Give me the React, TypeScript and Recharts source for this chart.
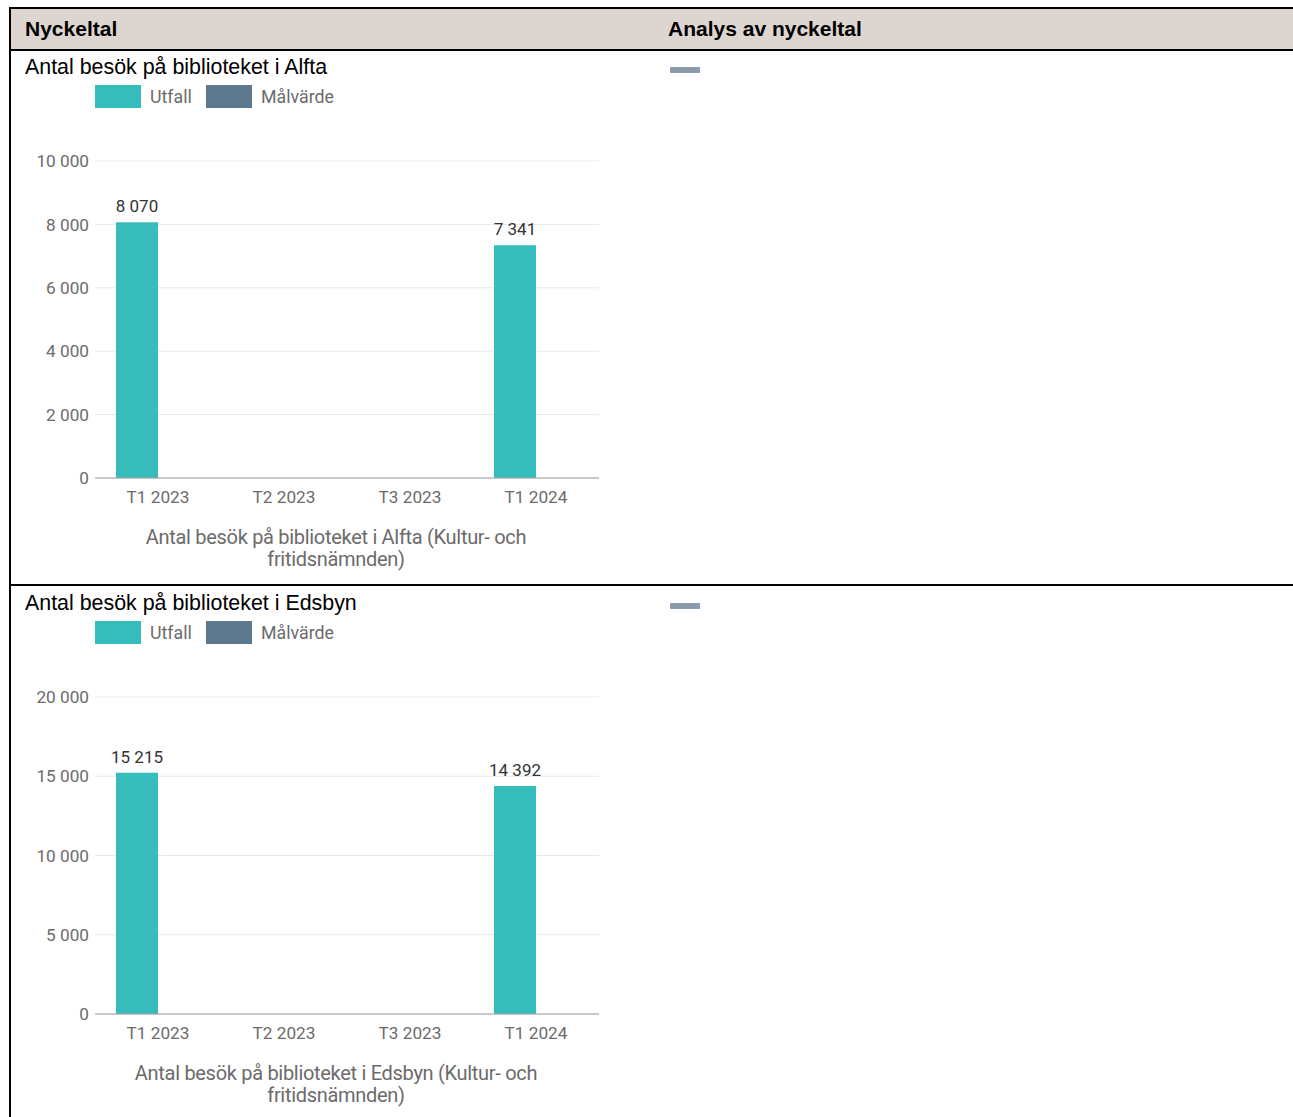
import { BarChart, Bar, XAxis, YAxis, CartesianGrid, LabelList } from "recharts";

// Key figure rows: library visits per tertial
const periods = ["T1 2023", "T2 2023", "T3 2023", "T1 2024"];
const alftaUtfall = [8070, null, null, 7341];
const alftaMalvarde = [null, null, null, null];
const edsbynUtfall = [15215, null, null, 14392];
const edsbynMalvarde = [null, null, null, null];
const alftaTicks = [0, 2000, 4000, 6000, 8000, 10000];
const edsbynTicks = [0, 5000, 10000, 15000, 20000];
const seriesNames = ["Utfall", "Målvärde"];
const seriesColors = ["#36bcba", "#5c788f"];

const ROBOTO = "Roboto, 'Noto Sans', sans-serif";
const ARIAL = "Arial, 'Liberation Sans', sans-serif";

// thousands separated by a no-break space so labels never wrap
const fmt = (v: unknown) =>
  v == null || v === "" ? "" : String(v).replace(/\B(?=(\d{3})+(?!\d))/g, "\u00a0");

function buildRows(utfall: (number | null)[], malvarde: (number | null)[]) {
  return periods.map((p, i) => ({ period: p, utfall: utfall[i], malvarde: malvarde[i] }));
}

function AxisTitle({ lines }: { lines: string[] }) {
  return (props: any) => {
    const y = props.viewBox?.y ?? 0;
    return (
      <text x={336} y={y + 66} textAnchor="middle" fill="#6b6b6b" fontSize={20} fontFamily={ROBOTO} letterSpacing={-0.3}>
        {lines.map((l, i) => (
          <tspan key={i} x={336} dy={i === 0 ? 0 : 22}>
            {l}
          </tspan>
        ))}
      </text>
    );
  };
}

function KpiRow({
  top,
  title,
  utfall,
  malvarde,
  ticks,
  titleLines,
}: {
  top: number;
  title: string;
  utfall: (number | null)[];
  malvarde: (number | null)[];
  ticks: number[];
  titleLines: string[];
}) {
  const data = buildRows(utfall, malvarde);
  return (
    <>
      <div style={{ position: "absolute", left: 25, top: top + 4, fontFamily: ARIAL, fontSize: 21.4, color: "#000", whiteSpace: "nowrap" }}>
        {title}
      </div>
      {seriesNames.map((name, i) => (
        <div key={name} style={{ position: "absolute", left: 95 + i * 111, top: top + 34, display: "flex", alignItems: "center" }}>
          <div style={{ width: 46, height: 23, background: seriesColors[i] }} />
          <span style={{ marginLeft: 9, fontFamily: ROBOTO, fontSize: 17.8, color: "#6b6b6b" }}>{name}</span>
        </div>
      ))}
      <div style={{ position: "absolute", left: 670, top: top + 16, width: 30, height: 6, background: "#8a9bab", borderRadius: 1 }} />
      <div style={{ position: "absolute", left: 0, top: top + 29 }}>
        <BarChart
          width={620}
          height={498}
          data={data}
          margin={{ top: 81, right: 21, left: 0, bottom: 0 }}
          barCategoryGap={21}
          barGap={0}
        >
          <CartesianGrid vertical={false} stroke="#e6eaee" />
          <XAxis
            dataKey="period"
            interval={0}
            height={100}
            tickLine={false}
            axisLine={{ stroke: "#9e9e9e" }}
            tickMargin={7}
            tick={{ fill: "#6b6b6b", fontSize: 17.2, fontFamily: ROBOTO }}
            label={{ content: AxisTitle({ lines: titleLines }) } as any}
          />
          <YAxis
            width={95}
            domain={[0, ticks[ticks.length - 1]]}
            ticks={ticks}
            interval={0}
            axisLine={false}
            tickLine={false}
            tickMargin={0}
            tickFormatter={fmt}
            tick={{ fill: "#6b6b6b", fontSize: 17.2, fontFamily: ROBOTO }}
          />
          <Bar dataKey="utfall" name={seriesNames[0]} fill={seriesColors[0]} isAnimationActive={false}>
            <LabelList
              dataKey="utfall"
              position="top"
              offset={10}
              formatter={fmt}
              style={{ fill: "#333", fontSize: 17, fontFamily: ROBOTO }}
            />
          </Bar>
          <Bar dataKey="malvarde" name={seriesNames[1]} fill={seriesColors[1]} isAnimationActive={false} />
        </BarChart>
      </div>
    </>
  );
}

export default function App() {
  return (
    <div style={{ position: "fixed", left: 0, top: 0, width: 1293, height: 1117, background: "#fff", overflow: "hidden" }}>
      {/* table frame */}
      <div style={{ position: "absolute", left: 9, top: 7, width: 1284, height: 2, background: "#000" }} />
      <div style={{ position: "absolute", left: 9, top: 7, width: 2, height: 1110, background: "#000" }} />
      <div style={{ position: "absolute", left: 11, top: 9, width: 1282, height: 40, background: "#ddd5d0" }} />
      <div style={{ position: "absolute", left: 9, top: 49, width: 1284, height: 2, background: "#000" }} />
      <div style={{ position: "absolute", left: 9, top: 584, width: 1284, height: 2, background: "#000" }} />
      <div style={{ position: "absolute", left: 25, top: 17, fontFamily: ARIAL, fontWeight: 700, fontSize: 21 }}>Nyckeltal</div>
      <div style={{ position: "absolute", left: 668, top: 17, fontFamily: ARIAL, fontWeight: 700, fontSize: 21 }}>
        Analys av nyckeltal
      </div>

      <KpiRow
        top={51}
        title="Antal besök på biblioteket i Alfta"
        utfall={alftaUtfall}
        malvarde={alftaMalvarde}
        ticks={alftaTicks}
        titleLines={["Antal besök på biblioteket i Alfta (Kultur- och", "fritidsnämnden)"]}
      />
      <KpiRow
        top={587}
        title="Antal besök på biblioteket i Edsbyn"
        utfall={edsbynUtfall}
        malvarde={edsbynMalvarde}
        ticks={edsbynTicks}
        titleLines={["Antal besök på biblioteket i Edsbyn (Kultur- och", "fritidsnämnden)"]}
      />
    </div>
  );
}
